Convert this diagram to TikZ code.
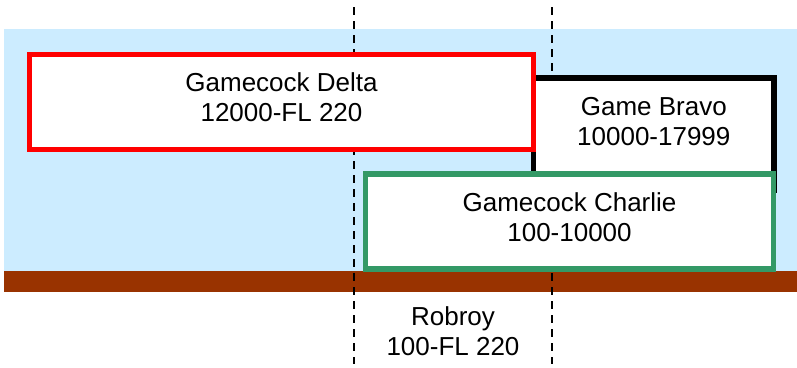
\documentclass[tikz,border=0pt]{standalone}
\usepackage{fontspec}
\setmainfont{Liberation Sans}
\definecolor{sky}{HTML}{CCECFF}
\definecolor{ground}{HTML}{993300}
\definecolor{boxred}{HTML}{FF0000}
\definecolor{boxgreen}{HTML}{339966}
\begin{document}
\begin{tikzpicture}[x=1pt,y=-1pt,
  zone/.style={fill=white,line width=5.5pt,line join=miter},
  lbl/.style={align=center,inner sep=0pt,font=\fontsize{26}{30}\selectfont},
  divider/.style={line width=2pt,dash pattern=on 8pt off 6pt}]
\useasboundingbox (0,0) rectangle (797,367);
% sky and ground
\fill[sky] (4.3,29.3) rectangle (797,270.7);
\fill[ground] (4.3,270.7) rectangle (797,292);
% dashed boundaries
\coordinate (l1) at (354,7);
\coordinate (l2) at (354,364);
\coordinate (r1) at (552,7);
\coordinate (r2) at (552,364);
\draw[divider] (l1) -- (l2);
\draw[divider] (r1) -- (r2);
% boxes
\draw[zone,draw=black] (533.5,78) rectangle (774,190);
\draw[zone,draw=boxred] (29.5,54.5) rectangle (533.5,149.5);
\draw[zone,draw=boxgreen] (365.7,174) rectangle (773.5,269);
% labels
\node[lbl] (delta) at (281.5,97.5) {Gamecock Delta\\12000-FL 220};
\node[lbl] (bravo) at (653.8,121.2) {Game Bravo\\10000-17999};
\node[lbl] (charlie) at (569.5,217.5) {Gamecock Charlie\\100-10000};
\node[lbl] (robroy) at (453,331.2) {Robroy\\100-FL 220};
\end{tikzpicture}
\end{document}
